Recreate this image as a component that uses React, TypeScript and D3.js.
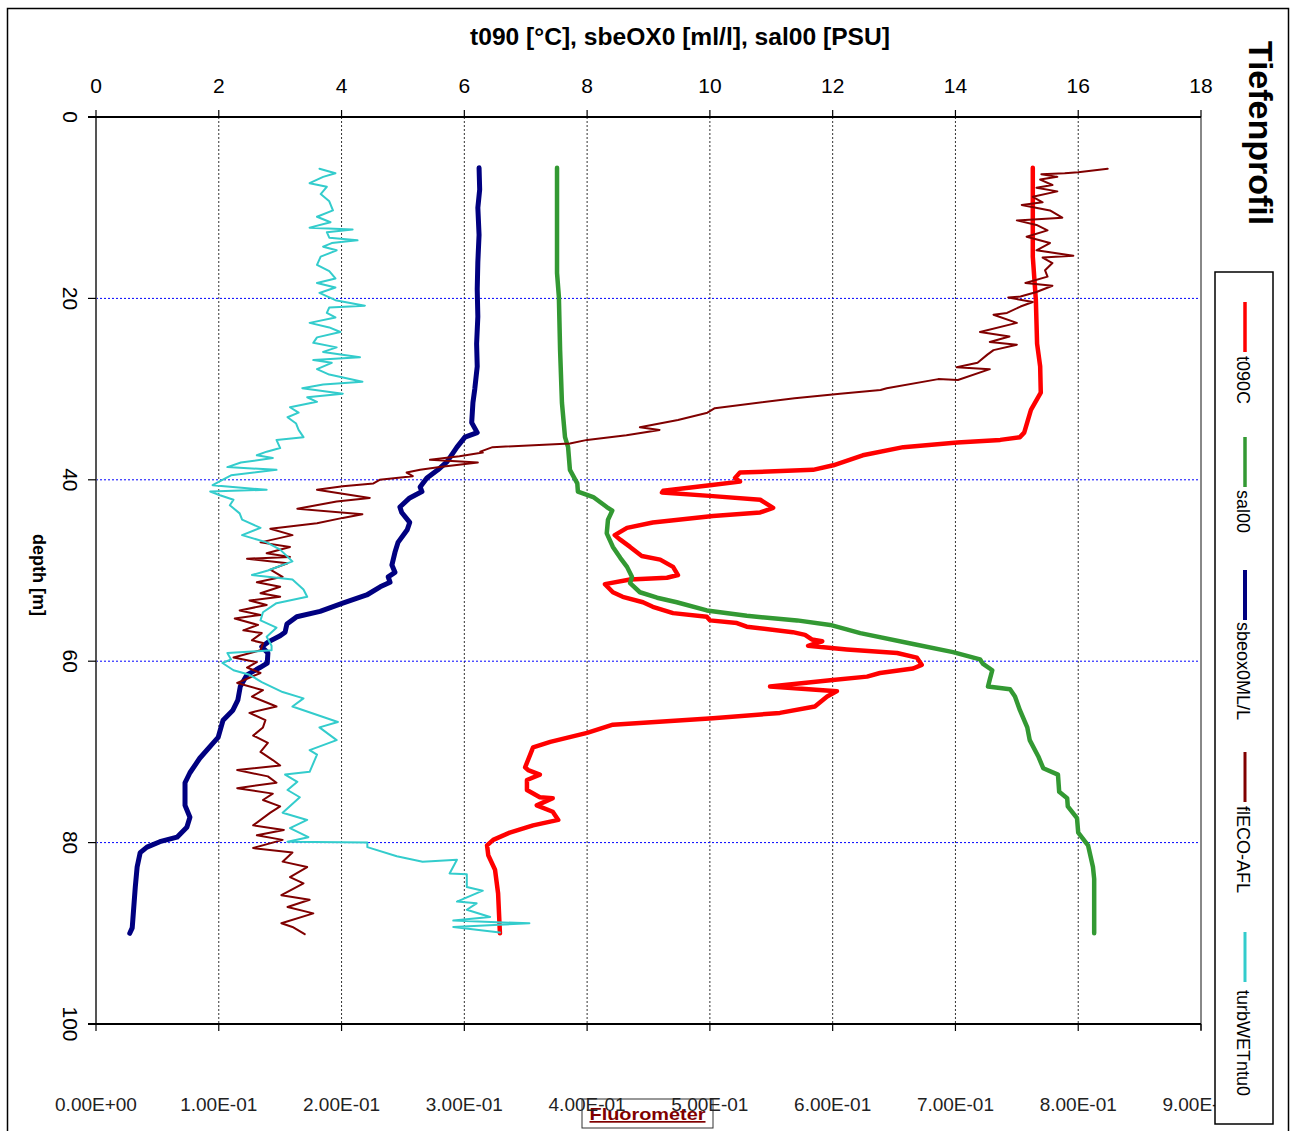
import React, { useEffect, useRef } from "react";
import * as d3 from "d3";

// axis ticks
const topTicks = [0, 2, 4, 6, 8, 10, 12, 14, 16, 18];
const depthTicks = [0, 20, 40, 60, 80, 100];
const fluoTicks = [0, 0.1, 0.2, 0.3, 0.4, 0.5, 0.6, 0.7, 0.8, 0.9];
const fluoLabels = ["0.00E+00", "1.00E-01", "2.00E-01", "3.00E-01", "4.00E-01", "5.00E-01", "6.00E-01", "7.00E-01", "8.00E-01", "9.00E-01"];

// profiles: [depth m, value]
const t090C = [
  [5.6, 15.26], [10, 15.26], [15.4, 15.26], [20.2, 15.31], [25, 15.33], [27.5, 15.38], [30.4, 15.39], [32.3, 15.23],
  [34.8, 15.12], [35.3, 15.05], [35.6, 14.73], [35.9, 14.03], [36.4, 13.15], [37.3, 12.49], [38.4, 12.01], [38.9, 11.68],
  [39.2, 10.49], [39.8, 10.41], [40.2, 10.49], [40.6, 10.0], [41.2, 9.24], [41.4, 9.22], [41.8, 10.05], [42.2, 10.82],
  [43.1, 11.03], [43.6, 10.82], [44.0, 10.05], [44.7, 9.07], [45.3, 8.65], [46.1, 8.45], [46.6, 8.54], [47.4, 8.7],
  [48.4, 8.89], [48.8, 9.19], [49.6, 9.4], [50.5, 9.48], [50.8, 9.3], [51.0, 8.7], [51.5, 8.29], [52.4, 8.42],
  [52.9, 8.58], [53.5, 8.91], [54.0, 9.07], [54.7, 9.4], [55.1, 9.95], [55.5, 10.0], [55.8, 10.44], [56.2, 10.6],
  [56.8, 11.35], [57.1, 11.55], [57.6, 11.66], [57.8, 11.83], [58.3, 11.6], [58.7, 12.23], [59.1, 13.05], [59.6, 13.37],
  [60.4, 13.45], [60.8, 13.31], [61.3, 12.77], [61.7, 12.56], [62.1, 11.96], [62.8, 10.98], [63.3, 12.07], [63.9, 11.91],
  [65.0, 11.71], [65.7, 11.14], [66.3, 10.05], [67.0, 8.42], [67.9, 8.0], [68.9, 7.4], [69.5, 7.12], [71.7, 6.99],
  [72.0, 7.04], [72.5, 7.23], [73.1, 7.02], [74.2, 7.02], [75.0, 7.23], [75.1, 7.44], [75.9, 7.18], [76.6, 7.44],
  [77.5, 7.53], [78.1, 7.12], [78.9, 6.74], [79.7, 6.47], [80.3, 6.37], [81.4, 6.39], [83.0, 6.5], [85.6, 6.55], [90.0, 6.58],
];

const sal00 = [
  [5.6, 7.51], [10, 7.51], [17.2, 7.51], [19.8, 7.54], [25.7, 7.56], [31.5, 7.59], [35.3, 7.64], [36.4, 7.69],
  [38.9, 7.72], [40.4, 7.84], [41.3, 7.85], [41.9, 8.1], [43.0, 8.32], [43.4, 8.41], [44.4, 8.34], [45.9, 8.32],
  [47.4, 8.42], [48.6, 8.54], [49.6, 8.65], [50.7, 8.73], [51.4, 8.7], [52.4, 8.86], [53.0, 9.14], [53.5, 9.46],
  [54.4, 9.95], [55.0, 10.6], [55.5, 11.42], [56.0, 11.96], [56.9, 12.45], [58.1, 13.31], [59.0, 13.96], [59.8, 14.4],
  [60.3, 14.45], [61.0, 14.6], [62.0, 14.56], [62.8, 14.53], [63.1, 14.89], [63.9, 14.97], [65.4, 15.05], [67.3, 15.17],
  [68.7, 15.21], [70.5, 15.35], [71.8, 15.43], [72.5, 15.67], [74.4, 15.69], [75.1, 15.82], [76.0, 15.83], [77.3, 15.98],
  [78.9, 16.0], [80.3, 16.16], [82.7, 16.24], [84.0, 16.26], [90.0, 16.26],
];

const sbeox0 = [
  [5.6, 6.24], [8, 6.25], [10, 6.22], [13, 6.24], [16, 6.22], [19, 6.21], [22, 6.22], [25, 6.2], [27.5, 6.21],
  [30, 6.17], [31.5, 6.14], [33.7, 6.12], [34.8, 6.21], [35.3, 6.01], [36.4, 5.88], [38, 5.72], [38.9, 5.57],
  [39.8, 5.39], [40.8, 5.28], [41.3, 5.31], [42, 5.11], [43, 4.95], [43.6, 4.98], [44.7, 5.11], [45.5, 5.07],
  [46.9, 4.92], [48, 4.87], [49.4, 4.82], [50.2, 4.87], [50.7, 4.76], [51.3, 4.79], [51.8, 4.63], [52.7, 4.41],
  [53.6, 4.02], [54.5, 3.65], [55.1, 3.27], [55.9, 3.11], [56.8, 3.08], [57.2, 3.0], [57.9, 2.8], [58.4, 2.7],
  [59.1, 2.8], [60.2, 2.79], [60.7, 2.67], [61.5, 2.46], [62.8, 2.35], [64.3, 2.31], [65.4, 2.23], [66.5, 2.07],
  [68.4, 1.99], [69, 1.91], [70.7, 1.69], [72.3, 1.53], [73.4, 1.45], [75.9, 1.45], [77.2, 1.53], [78.3, 1.48],
  [79.4, 1.32], [79.9, 1.04], [80.5, 0.83], [81.1, 0.72], [82.7, 0.67], [84.9, 0.64], [88.5, 0.6], [89.4, 0.59], [90, 0.55],
];

const flECO = [
  [5.7, 0.824], [6.1, 0.8], [6.2, 0.789], [6.3, 0.77], [6.6, 0.783], [6.9, 0.769], [7.5, 0.779], [7.8, 0.766],
  [8.2, 0.783], [8.8, 0.763], [9.4, 0.771], [9.7, 0.754], [10.3, 0.777], [11.1, 0.787], [11.4, 0.75], [11.9, 0.766],
  [12.5, 0.775], [13.2, 0.758], [13.9, 0.777], [14.7, 0.766], [15.3, 0.796], [15.5, 0.771], [16.1, 0.779], [16.9, 0.773],
  [17.6, 0.775], [18.3, 0.757], [18.6, 0.779], [19.3, 0.766], [19.8, 0.753], [19.9, 0.743], [20.4, 0.763], [20.9, 0.753],
  [21.6, 0.742], [21.8, 0.731], [22.7, 0.75], [23.7, 0.72], [24.2, 0.744], [24.8, 0.728], [25.1, 0.75], [25.7, 0.731],
  [26.2, 0.726], [27.1, 0.718], [27.6, 0.701], [27.8, 0.728], [29.0, 0.702], [28.9, 0.686], [29.9, 0.644], [30.1, 0.639],
  [30.5, 0.606], [31.0, 0.569], [32.1, 0.504], [32.6, 0.498], [33.4, 0.474], [34.2, 0.443], [34.5, 0.459], [35.1, 0.432],
  [35.6, 0.4], [36.0, 0.386], [36.4, 0.323], [36.9, 0.313], [37.0, 0.315], [37.4, 0.296], [37.8, 0.272], [38.1, 0.311],
  [38.6, 0.28], [38.9, 0.264], [39.2, 0.253], [39.6, 0.258], [40.0, 0.231], [40.4, 0.226], [40.7, 0.201], [41.1, 0.18],
  [42.0, 0.223], [42.4, 0.196], [43.2, 0.164], [43.8, 0.217], [44.2, 0.201], [44.8, 0.18], [45.4, 0.142], [46.1, 0.16],
  [46.9, 0.134], [47.4, 0.158], [48.1, 0.139], [48.5, 0.158], [48.7, 0.123], [49.2, 0.156], [49.9, 0.142], [50.7, 0.152],
  [51.3, 0.131], [51.8, 0.15], [52.5, 0.134], [52.9, 0.15], [53.3, 0.125], [53.8, 0.139], [54.4, 0.117], [54.9, 0.134],
  [55.3, 0.113], [56.0, 0.132], [56.6, 0.12], [56.9, 0.135], [57.7, 0.127], [58.0, 0.136], [58.8, 0.134], [59.6, 0.112],
  [60.1, 0.131], [60.7, 0.123], [61.3, 0.134], [62.4, 0.115], [63.2, 0.136], [63.9, 0.127], [65.0, 0.147], [65.7, 0.125],
  [66.5, 0.138], [67.3, 0.136], [68.2, 0.128], [69.0, 0.14], [70.0, 0.134], [70.9, 0.144], [71.5, 0.15], [72.0, 0.115],
  [72.7, 0.14], [73.4, 0.147], [74.0, 0.115], [74.6, 0.144], [75.3, 0.136], [76.0, 0.15], [76.7, 0.142], [78.1, 0.128],
  [78.6, 0.153], [79.2, 0.131], [79.7, 0.152], [80.6, 0.128], [81.1, 0.16], [82.1, 0.152], [82.7, 0.172], [83.8, 0.158],
  [84.5, 0.169], [85.8, 0.151], [86.3, 0.174], [87.1, 0.156], [87.8, 0.177], [88.9, 0.151], [89.3, 0.16], [90.1, 0.17],
];

const turbWET = [
  [5.7, 0.182], [6.2, 0.195], [6.6, 0.185], [7.3, 0.174], [7.7, 0.188], [8.5, 0.183], [9.3, 0.19], [10.3, 0.193],
  [11.0, 0.18], [11.6, 0.191], [12.2, 0.174], [12.4, 0.209], [12.7, 0.188], [13.3, 0.19], [13.6, 0.213], [13.9, 0.192],
  [14.3, 0.185], [14.7, 0.196], [15.4, 0.183], [16.3, 0.18], [17.0, 0.19], [17.8, 0.195], [18.3, 0.18], [18.8, 0.195],
  [19.4, 0.182], [20.2, 0.195], [20.8, 0.219], [21.0, 0.19], [21.6, 0.188], [22.1, 0.195], [22.7, 0.174], [23.2, 0.19],
  [23.7, 0.199], [24.3, 0.18], [24.9, 0.177], [25.4, 0.196], [25.9, 0.185], [26.5, 0.215], [26.8, 0.177], [27.1, 0.192],
  [27.8, 0.18], [28.4, 0.19], [29.2, 0.217], [29.5, 0.185], [29.9, 0.168], [30.5, 0.201], [30.9, 0.172], [31.4, 0.18],
  [32.0, 0.158], [32.6, 0.165], [33.1, 0.156], [33.8, 0.163], [34.5, 0.165], [35.3, 0.169], [35.6, 0.147], [36.5, 0.15],
  [36.9, 0.139], [37.3, 0.131], [37.6, 0.144], [38.1, 0.118], [38.6, 0.107], [38.9, 0.147], [39.5, 0.11], [40.0, 0.103],
  [40.6, 0.095], [41.1, 0.139], [41.3, 0.093], [41.7, 0.101], [42.2, 0.112], [42.8, 0.109], [43.7, 0.117], [44.4, 0.119],
  [45.3, 0.134], [46.1, 0.119], [46.9, 0.139], [47.7, 0.15], [49.0, 0.16], [50.0, 0.14], [50.5, 0.127], [51.0, 0.16],
  [52.1, 0.169], [52.9, 0.172], [53.6, 0.147], [54.6, 0.136], [55.5, 0.134], [56.3, 0.147], [57.3, 0.139], [58.3, 0.143],
  [58.8, 0.143], [59.1, 0.107], [59.8, 0.11], [60.2, 0.103], [61.0, 0.112], [61.5, 0.125], [62.3, 0.135], [63.4, 0.152],
  [64.1, 0.169], [65.0, 0.16], [66.7, 0.197], [67.3, 0.182], [68.7, 0.196], [69.8, 0.174], [70.3, 0.18], [72.2, 0.174],
  [72.5, 0.154], [73.3, 0.164], [74.2, 0.156], [75.0, 0.166], [76.7, 0.152], [77.5, 0.172], [78.4, 0.158], [79.4, 0.173],
  [79.9, 0.156], [80.0, 0.221], [80.5, 0.221], [81.5, 0.245], [82.1, 0.266], [81.9, 0.294], [83.4, 0.288], [83.5, 0.302],
  [84.9, 0.302], [85.3, 0.315], [86.5, 0.294], [86.7, 0.31], [87.4, 0.302], [88.2, 0.321], [88.6, 0.291], [88.9, 0.353],
  [89.3, 0.291], [89.9, 0.329],
];

const FONT = "'Liberation Sans', Arial, Helvetica, sans-serif";

const series = [
  { name: "t090C", data: t090C, color: "#ff0000", width: 4.5, primary: true, legendY: 302, textY: 356 },
  { name: "sal00", data: sal00, color: "#339933", width: 4.5, primary: true, legendY: 437, textY: 490 },
  { name: "sbeox0ML/L", data: sbeox0, color: "#000080", width: 5, primary: true, legendY: 570, textY: 622 },
  { name: "flECO-AFL", data: flECO, color: "#800000", width: 2, primary: false, legendY: 752, textY: 806 },
  { name: "turbWETntu0", data: turbWET, color: "#33cccc", width: 2, primary: false, legendY: 932, textY: 990 },
];

export default function App() {
  const svgRef = useRef(null);

  useEffect(() => {
    const svg = d3.select(svgRef.current);
    svg.selectAll("*").remove();

    const left = 96, right = 1201, top = 117, bottom = 1024;
    const xTop = d3.scaleLinear().domain([0, 18]).range([left, right]);
    const xBot = d3.scaleLinear().domain([0, 0.9]).range([left, right]);
    const y = d3.scaleLinear().domain([0, 100]).range([top, bottom]);

    // outer frame
    svg.append("rect").attr("x", 7.5).attr("y", 8.5).attr("width", 1281).attr("height", 1140)
      .attr("fill", "#fff").attr("stroke", "#000").attr("stroke-width", 1.5);

    // grid
    svg.append("g").selectAll("line").data(topTicks.filter((d) => d > 0 && d < 18)).join("line")
      .attr("x1", (d) => xTop(d)).attr("x2", (d) => xTop(d)).attr("y1", top).attr("y2", bottom)
      .attr("stroke", "#333").attr("stroke-width", 1).attr("stroke-dasharray", "2,2");
    svg.append("g").selectAll("line").data(depthTicks.filter((d) => d > 0 && d < 100)).join("line")
      .attr("x1", left).attr("x2", right).attr("y1", (d) => y(d)).attr("y2", (d) => y(d))
      .attr("stroke", "#0000ff").attr("stroke-width", 1).attr("stroke-dasharray", "2,2");

    // frame lines
    svg.append("line").attr("x1", left).attr("x2", left).attr("y1", top).attr("y2", bottom)
      .attr("stroke", "#555").attr("stroke-width", 2);
    svg.append("line").attr("x1", right).attr("x2", right).attr("y1", top).attr("y2", bottom + 6)
      .attr("stroke", "#888").attr("stroke-width", 2);
    svg.append("line").attr("x1", left - 8).attr("x2", right).attr("y1", top).attr("y2", top)
      .attr("stroke", "#000").attr("stroke-width", 2);
    svg.append("line").attr("x1", left - 8).attr("x2", right).attr("y1", bottom).attr("y2", bottom)
      .attr("stroke", "#000").attr("stroke-width", 2);

    // top axis ticks + labels
    const gTop = svg.append("g");
    gTop.selectAll("line").data(topTicks).join("line")
      .attr("x1", (d) => xTop(d)).attr("x2", (d) => xTop(d)).attr("y1", top - 7).attr("y2", top)
      .attr("stroke", "#000").attr("stroke-width", 1.2);
    gTop.selectAll("text").data(topTicks).join("text")
      .attr("x", (d) => xTop(d)).attr("y", 93).attr("text-anchor", "middle")
      .attr("font-family", FONT).attr("font-size", 21).attr("fill", "#000").text((d) => d);

    // depth axis
    const gLeft = svg.append("g");
    gLeft.selectAll("line").data(depthTicks).join("line")
      .attr("x1", left - 8).attr("x2", left).attr("y1", (d) => y(d)).attr("y2", (d) => y(d))
      .attr("stroke", "#000").attr("stroke-width", 1.2);
    gLeft.selectAll("text").data(depthTicks).join("text")
      .attr("transform", (d) => `translate(63,${y(d)}) rotate(90)`)
      .attr("text-anchor", "middle")
      .attr("font-family", FONT).attr("font-size", 21).attr("fill", "#000").text((d) => d);
    svg.append("text").attr("transform", "translate(33,575) rotate(90)").attr("text-anchor", "middle")
      .attr("font-family", FONT).attr("font-size", 18).attr("font-weight", "bold").text("depth [m]");

    // fluorometer axis
    svg.append("rect").attr("x", 582).attr("y", 1099).attr("width", 131).attr("height", 29)
      .attr("fill", "none").attr("stroke", "#333").attr("stroke-width", 1);
    svg.append("text").attr("x", 647.5).attr("y", 1120).attr("text-anchor", "middle")
      .attr("font-family", FONT).attr("font-size", 17).attr("font-weight", "bold").attr("fill", "#800000")
      .attr("text-decoration", "underline").attr("textLength", 116).attr("lengthAdjust", "spacingAndGlyphs")
      .text("Fluorometer");
    const gBot = svg.append("g");
    gBot.selectAll("line").data(fluoTicks).join("line")
      .attr("x1", (d) => xBot(d)).attr("x2", (d) => xBot(d)).attr("y1", bottom).attr("y2", bottom + 7)
      .attr("stroke", "#000").attr("stroke-width", 1.2);
    gBot.selectAll("text").data(fluoTicks).join("text")
      .attr("x", (d) => xBot(d)).attr("y", 1111).attr("text-anchor", "middle")
      .attr("font-family", FONT).attr("font-size", 19).attr("fill", "#222")
      .text((d, i) => fluoLabels[i]);

    // title
    svg.append("text").attr("x", 680).attr("y", 45).attr("text-anchor", "middle")
      .attr("font-family", FONT).attr("font-size", 24.6).attr("font-weight", "bold")
      .text("t090 [°C], sbeOX0 [ml/l], sal00 [PSU]");

    // profiles
    const gLines = svg.append("g");
    series.forEach((s) => {
      const xs = s.primary ? xTop : xBot;
      const line = d3.line().x((d) => xs(d[1])).y((d) => y(d[0]));
      gLines.append("path").datum(s.data).attr("d", line)
        .attr("fill", "none").attr("stroke", s.color).attr("stroke-width", s.width)
        .attr("stroke-linejoin", "round").attr("stroke-linecap", "round");
    });

    // chart title on the right
    svg.append("text").attr("transform", "translate(1249,133) rotate(90)").attr("text-anchor", "middle")
      .attr("font-family", FONT).attr("font-size", 34).attr("font-weight", "bold").text("Tiefenprofil");

    // legend
    svg.append("rect").attr("x", 1215).attr("y", 272).attr("width", 58).attr("height", 852)
      .attr("fill", "#fff").attr("stroke", "#000").attr("stroke-width", 1.5);
    const gLeg = svg.append("g");
    gLeg.selectAll("line").data(series).join("line")
      .attr("x1", 1245).attr("x2", 1245).attr("y1", (d) => d.legendY).attr("y2", (d) => d.legendY + 50)
      .attr("stroke", (d) => d.color).attr("stroke-width", (d) => Math.max(3, d.width - 1));
    gLeg.selectAll("text").data(series).join("text")
      .attr("transform", (d) => `translate(1237,${d.textY}) rotate(90)`)
      .attr("font-family", FONT).attr("font-size", 18).attr("fill", "#000").text((d) => d.name);
  }, []);

  return (
    <svg ref={svgRef} width={1298} height={1131}
      style={{ position: "absolute", left: 0, top: 0, display: "block", background: "#fff" }} />
  );
}
